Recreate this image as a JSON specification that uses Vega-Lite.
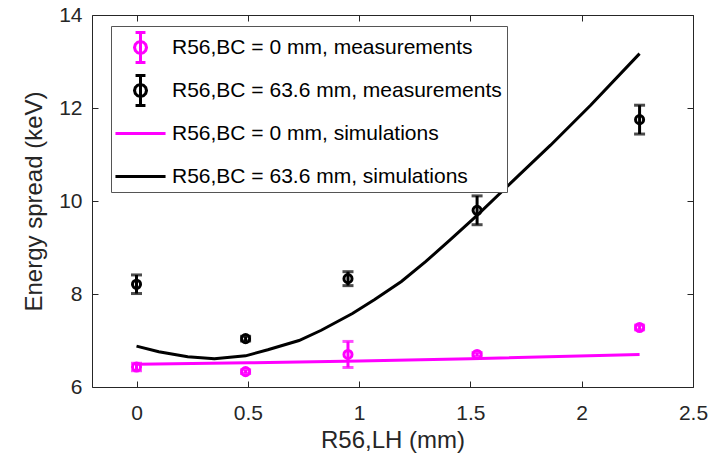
{
  "$schema": "https://vega.github.io/schema/vega-lite/v6.json",
  "width": 601,
  "height": 372,
  "autosize": {"type": "none"},
  "padding": {"left": 92, "top": 15, "right": 27, "bottom": 71},
  "background": "white",
  "config": {
    "font": "Liberation Sans",
    "view": {"stroke": null},
    "axis": {
      "domainColor": "#262626",
      "tickColor": "#262626",
      "labelColor": "#262626",
      "titleColor": "#262626",
      "labelFont": "Liberation Sans",
      "titleFont": "Liberation Sans",
      "labelFontSize": 21,
      "titleFontSize": 24,
      "titleFontWeight": "normal",
      "grid": false,
      "domainWidth": 1,
      "tickWidth": 1
    }
  },
  "data": {
    "values": [
      {"type": "meas", "series": "R56,BC = 0 mm, measurements", "x": 0, "y": 6.43, "lo": 6.35, "hi": 6.51},
      {"type": "meas", "series": "R56,BC = 0 mm, measurements", "x": 0.49, "y": 6.33, "lo": 6.29, "hi": 6.37},
      {"type": "meas", "series": "R56,BC = 0 mm, measurements", "x": 0.95, "y": 6.70, "lo": 6.42, "hi": 6.98},
      {"type": "meas", "series": "R56,BC = 0 mm, measurements", "x": 1.53, "y": 6.70, "lo": 6.66, "hi": 6.74},
      {"type": "meas", "series": "R56,BC = 0 mm, measurements", "x": 2.26, "y": 7.28, "lo": 7.23, "hi": 7.33},
      {"type": "meas", "series": "R56,BC = 63.6 mm, measurements", "x": 0, "y": 8.21, "lo": 8.01, "hi": 8.41},
      {"type": "meas", "series": "R56,BC = 63.6 mm, measurements", "x": 0.49, "y": 7.04, "lo": 6.99, "hi": 7.09},
      {"type": "meas", "series": "R56,BC = 63.6 mm, measurements", "x": 0.95, "y": 8.33, "lo": 8.18, "hi": 8.48},
      {"type": "meas", "series": "R56,BC = 63.6 mm, measurements", "x": 1.53, "y": 9.80, "lo": 9.49, "hi": 10.11},
      {"type": "meas", "series": "R56,BC = 63.6 mm, measurements", "x": 2.26, "y": 11.75, "lo": 11.44, "hi": 12.06},
      {"type": "sim", "series": "R56,BC = 0 mm, simulations", "x": 0, "y": 6.49},
      {"type": "sim", "series": "R56,BC = 0 mm, simulations", "x": 0.5, "y": 6.52},
      {"type": "sim", "series": "R56,BC = 0 mm, simulations", "x": 1.0, "y": 6.56},
      {"type": "sim", "series": "R56,BC = 0 mm, simulations", "x": 1.5, "y": 6.61},
      {"type": "sim", "series": "R56,BC = 0 mm, simulations", "x": 2.26, "y": 6.70},
      {"type": "sim", "series": "R56,BC = 63.6 mm, simulations", "x": 0, "y": 6.88},
      {"type": "sim", "series": "R56,BC = 63.6 mm, simulations", "x": 0.1, "y": 6.76},
      {"type": "sim", "series": "R56,BC = 63.6 mm, simulations", "x": 0.23, "y": 6.65},
      {"type": "sim", "series": "R56,BC = 63.6 mm, simulations", "x": 0.35, "y": 6.61},
      {"type": "sim", "series": "R56,BC = 63.6 mm, simulations", "x": 0.49, "y": 6.67},
      {"type": "sim", "series": "R56,BC = 63.6 mm, simulations", "x": 0.59, "y": 6.80},
      {"type": "sim", "series": "R56,BC = 63.6 mm, simulations", "x": 0.73, "y": 7.0},
      {"type": "sim", "series": "R56,BC = 63.6 mm, simulations", "x": 0.83, "y": 7.22},
      {"type": "sim", "series": "R56,BC = 63.6 mm, simulations", "x": 0.97, "y": 7.58},
      {"type": "sim", "series": "R56,BC = 63.6 mm, simulations", "x": 1.07, "y": 7.88},
      {"type": "sim", "series": "R56,BC = 63.6 mm, simulations", "x": 1.19, "y": 8.27},
      {"type": "sim", "series": "R56,BC = 63.6 mm, simulations", "x": 1.30, "y": 8.70},
      {"type": "sim", "series": "R56,BC = 63.6 mm, simulations", "x": 1.41, "y": 9.17},
      {"type": "sim", "series": "R56,BC = 63.6 mm, simulations", "x": 1.53, "y": 9.69},
      {"type": "sim", "series": "R56,BC = 63.6 mm, simulations", "x": 1.71, "y": 10.52},
      {"type": "sim", "series": "R56,BC = 63.6 mm, simulations", "x": 1.86, "y": 11.20},
      {"type": "sim", "series": "R56,BC = 63.6 mm, simulations", "x": 2.04, "y": 12.06},
      {"type": "sim", "series": "R56,BC = 63.6 mm, simulations", "x": 2.26, "y": 13.17}
    ]
  },
  "resolve": {"axis": {"x": "independent", "y": "independent"}},
  "layer": [
    {
      "transform": [{"filter": "datum.type == 'sim'"}],
      "mark": {"type": "line", "strokeWidth": 3},
      "encoding": {
        "x": {"field": "x", "type": "quantitative", "scale": {"domain": [-0.2, 2.5], "nice": false, "zero": false},
          "axis": {"orient": "bottom", "values": [0, 0.5, 1, 1.5, 2, 2.5], "format": "~g", "tickSize": -6, "labelPadding": 21, "title": "R56,LH (mm)", "titlePadding": 5, "domain": true, "labelFlush": false}},
        "y": {"field": "y", "type": "quantitative", "scale": {"domain": [6, 14], "nice": false, "zero": false},
          "axis": {"orient": "left", "values": [6, 8, 10, 12, 14], "tickSize": -6, "labelPadding": 16, "title": "Energy spread (keV)", "titlePadding": 12, "labelFlush": false}},
        "color": {"field": "series", "type": "nominal",
          "scale": {"domain": ["R56,BC = 0 mm, measurements", "R56,BC = 63.6 mm, measurements", "R56,BC = 0 mm, simulations", "R56,BC = 63.6 mm, simulations"], "range": ["#FF00FF", "#000000", "#FF00FF", "#000000"]},
          "legend": {
            "title": null,
            "orient": "none",
            "legendX": 19,
            "legendY": 11,
            "direction": "vertical",
            "strokeColor": "#555555",
            "fillColor": "white",
            "padding": 5,
            "labelFont": "Liberation Sans",
            "labelFontSize": 21,
            "labelColor": "#000000",
            "labelLimit": 500,
            "symbolSize": 900,
            "symbolStrokeWidth": 3,
            "symbolFillColor": "transparent",
            "symbolOffset": 8,
            "rowPadding": 0,
            "gridAlign": "all",
            "labelOffset": 15,
            "encode": {
              "symbols": {
                "update": {
                  "shape": {"signal": "indexof(datum.value, 'simulations') >= 0 ? 'M-1.67,0L1.67,0' : 'M0.4,0L0.346,0.2L0.2,0.346L0,0.4L-0.2,0.346L-0.346,0.2L-0.4,0L-0.346,-0.2L-0.2,-0.346L0,-0.4L0.2,-0.346L0.346,-0.2ZM0,-1L0,1M-0.33,-1L0.33,-1M-0.33,1L0.33,1'"},
                  "size": {"value": 900},
                  "fill": {"value": "transparent"},
                  "fillOpacity": {"value": 0},
                  "stroke": {"scale": "color", "field": "value"},
                  "opacity": {"value": 1}
                }
              }
            }
          }
        }
      }
    },
    {
      "transform": [{"filter": "datum.type == 'meas'"}],
      "mark": {"type": "errorbar", "ticks": {"size": 11, "thickness": 3}, "rule": {"strokeWidth": 3}},
      "encoding": {
        "x": {"field": "x", "type": "quantitative", "axis": null},
        "y": {"field": "lo", "type": "quantitative", "axis": null},
        "y2": {"field": "hi"},
        "color": {"field": "series", "type": "nominal"}
      }
    },
    {
      "transform": [{"filter": "datum.type == 'meas'"}],
      "mark": {"type": "point", "shape": "circle", "filled": false, "size": 65, "strokeWidth": 3, "opacity": 1},
      "encoding": {
        "x": {"field": "x", "type": "quantitative", "axis": null},
        "y": {"field": "y", "type": "quantitative", "axis": null},
        "color": {"field": "series", "type": "nominal"}
      }
    },
    {
      "transform": [{"filter": "datum.type == 'sim'"}],
      "mark": {"type": "line", "strokeOpacity": 0},
      "encoding": {
        "x": {"field": "x", "type": "quantitative",
          "axis": {"orient": "top", "values": [0, 0.5, 1, 1.5, 2, 2.5], "labels": false, "title": null, "tickSize": -6}},
        "y": {"field": "y", "type": "quantitative",
          "axis": {"orient": "right", "values": [6, 8, 10, 12, 14], "labels": false, "title": null, "tickSize": -6}},
        "detail": {"field": "series", "type": "nominal"}
      }
    }
  ]
}
